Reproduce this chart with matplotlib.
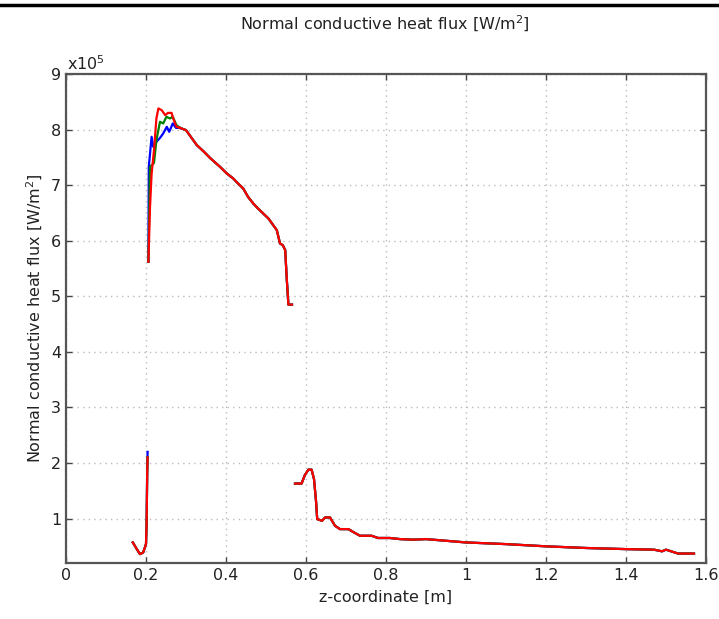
import numpy as np
import matplotlib.pyplot as plt
from matplotlib.lines import Line2D
from matplotlib.ticker import FuncFormatter

# heat flux values in units of 1e5 W/m^2
# lower left piece (inlet spike)
z_low = [0.167, 0.177, 0.185, 0.193, 0.200, 0.2015, 0.203, 0.204]
q_low_red = [0.57, 0.45, 0.36, 0.39, 0.54, 0.91, 1.81, 2.10]
q_low_blue = [0.57, 0.45, 0.36, 0.39, 0.54, 0.91, 1.85, 2.20]

# upper piece: the three runs differ near the peak
z_peak_red = [0.206, 0.210, 0.214, 0.220, 0.226, 0.231, 0.239, 0.248, 0.255, 0.264, 0.268, 0.276, 0.285]
q_peak_red = [5.62, 6.60, 7.20, 7.63, 8.20, 8.38, 8.35, 8.26, 8.30, 8.30, 8.20, 8.05, 8.03]
z_peak_green = [0.206, 0.210, 0.220, 0.226, 0.235, 0.243, 0.251, 0.260, 0.267, 0.276, 0.285]
q_peak_green = [5.62, 7.33, 7.40, 7.81, 8.14, 8.11, 8.23, 8.20, 8.23, 8.08, 8.03]
z_peak_blue = [0.206, 0.207, 0.214, 0.218, 0.226, 0.235, 0.243, 0.252, 0.258, 0.267, 0.275, 0.285]
q_peak_blue = [5.62, 7.33, 7.87, 7.69, 7.78, 7.85, 7.93, 8.05, 7.96, 8.11, 8.03, 8.03]

# upper piece, common tail
z_tail = [0.285, 0.300, 0.313, 0.327, 0.345, 0.360, 0.385, 0.402, 0.418, 0.430,
          0.443, 0.455, 0.468, 0.480, 0.493, 0.506, 0.518, 0.527, 0.531, 0.535,
          0.542, 0.548, 0.552, 0.556, 0.565]
q_tail = [8.03, 7.99, 7.86, 7.72, 7.60, 7.49, 7.33, 7.21, 7.12, 7.03,
          6.94, 6.79, 6.67, 6.58, 6.49, 6.40, 6.28, 6.19, 6.07, 5.95,
          5.92, 5.83, 5.30, 4.85, 4.85]

# right piece
z_right = [0.5725, 0.589, 0.597, 0.606, 0.614, 0.620, 0.625, 0.628, 0.640, 0.648, 0.660, 0.6725,
           0.685, 0.706, 0.720, 0.735, 0.764, 0.780, 0.810, 0.835, 0.868, 0.900, 1.00, 1.10,
           1.20, 1.30, 1.40, 1.47, 1.49, 1.50, 1.53, 1.57]
q_right = [1.63, 1.63, 1.78, 1.88, 1.88, 1.71, 1.32, 0.99, 0.96, 1.02, 1.02, 0.87,
           0.81, 0.81, 0.75, 0.69, 0.69, 0.65, 0.65, 0.63, 0.62, 0.63, 0.57, 0.54,
           0.50, 0.47, 0.45, 0.44, 0.41, 0.44, 0.37, 0.37]

xticks = [0, 0.2, 0.4, 0.6, 0.8, 1, 1.2, 1.4, 1.6]
yticks = [1, 2, 3, 4, 5, 6, 7, 8, 9]

colors = {'blue': '#0000ff', 'green': '#008000', 'red': '#ff0000'}
scale = 1e5

fig = plt.figure(figsize=(7.19, 6.19), dpi=100)
ax = fig.add_axes([66 / 719, 56 / 619, 640 / 719, 489 / 619])

lw = 1.6
runs = [
    ('blue', q_low_blue, z_peak_blue, q_peak_blue),
    ('green', q_low_red, z_peak_green, q_peak_green),
    ('red', q_low_red, z_peak_red, q_peak_red),
]
for name, qlow, zp, qp in runs:
    c = colors[name]
    ax.plot(z_low, np.array(qlow) * scale, color=c, lw=lw)
    ax.plot(zp, np.array(qp) * scale, color=c, lw=lw)
    ax.plot(z_tail, np.array(q_tail) * scale, color=c, lw=lw)
    ax.plot(z_right, np.array(q_right) * scale, color=c, lw=lw)

ax.set_xlim(0, 1.6)
ax.set_ylim(0.2e5, 9e5)
ax.set_xticks(xticks)
ax.set_yticks([t * scale for t in yticks])
ax.xaxis.set_major_formatter(FuncFormatter(lambda v, p: f'{v:g}'))
ax.yaxis.set_major_formatter(FuncFormatter(lambda v, p: f'{v / scale:g}'))

ax.grid(True, linestyle=(0, (1, 3)), color='#bcbcbc', lw=1.0)
ax.tick_params(direction='in', length=4, width=1, colors='#444444',
               labelcolor='#222222', labelsize=11.5, top=True, right=True)
for s in ax.spines.values():
    s.set_color('#555555')
    s.set_linewidth(1.6)

ax.set_xlabel('z-coordinate [m]', fontsize=11.5, color='#222222', labelpad=5)
ax.set_ylabel('Normal conductive heat flux [W/m$^2$]', fontsize=11.5, color='#222222', labelpad=4)
fig.text(385 / 719, 1 - 24 / 619, 'Normal conductive heat flux [W/m$^2$]',
         ha='center', va='center', fontsize=11.5, color='#222222')
fig.text(67 / 719, 1 - 64 / 619, 'x10$^5$', ha='left', va='center', fontsize=11.5, color='#222222')

# screenshot frame
fig.add_artist(Line2D([0, 1], [1 - 5 / 619, 1 - 5 / 619], color='black', lw=2.5, transform=fig.transFigure))

fig.savefig('out.png', dpi=100)
